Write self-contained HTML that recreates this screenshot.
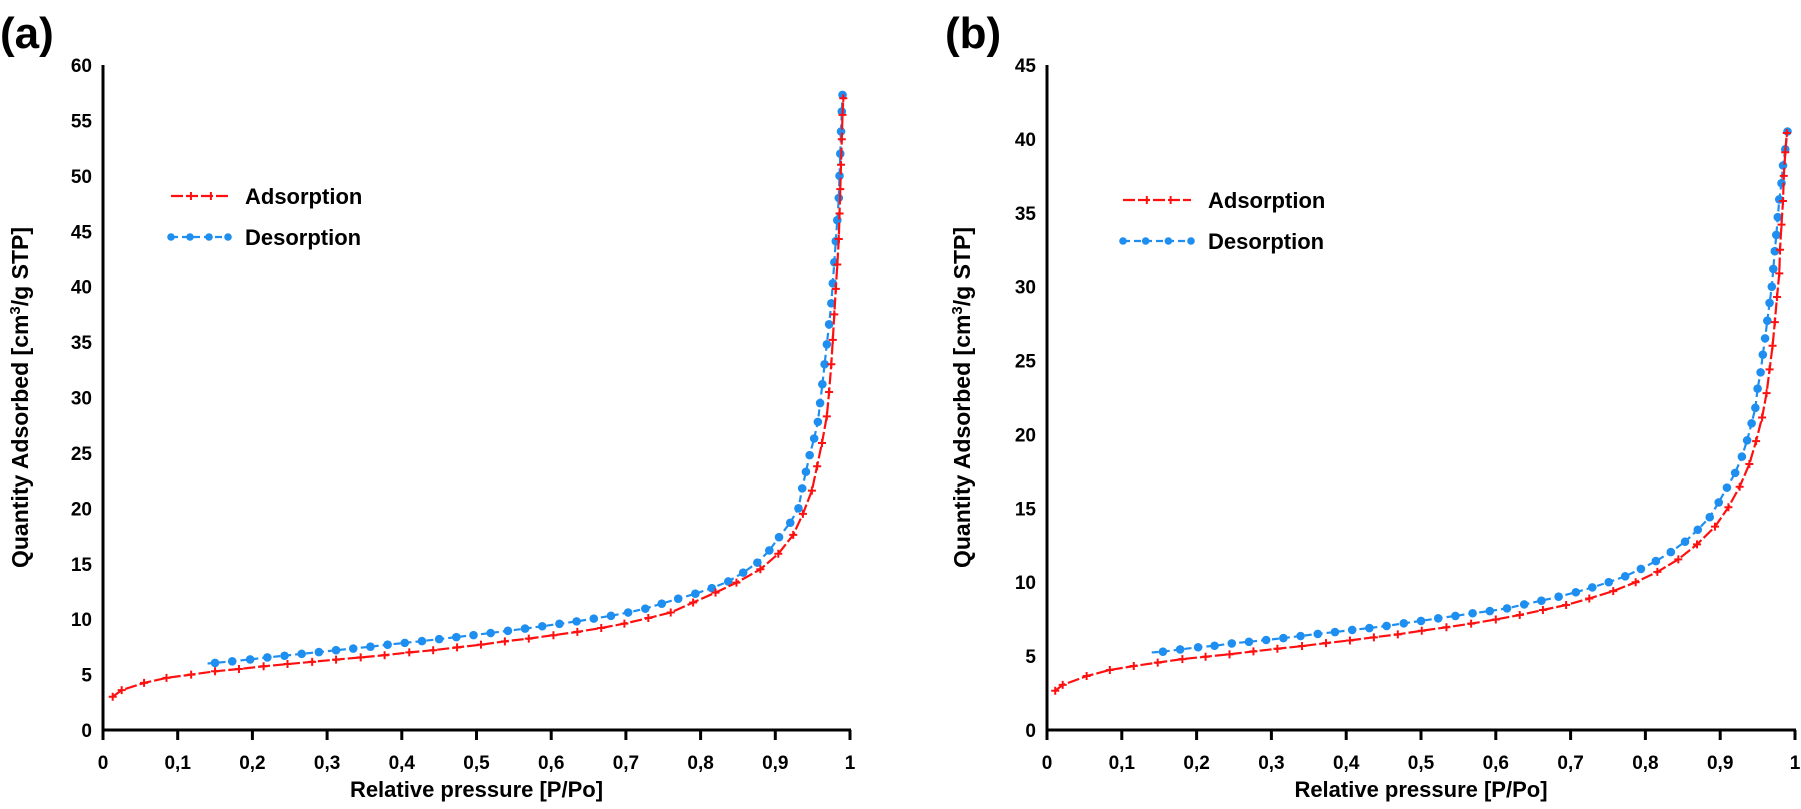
<!DOCTYPE html>
<html><head><meta charset="utf-8"><style>
html,body{margin:0;padding:0;background:#fff;}
svg{display:block;font-family:"Liberation Sans",sans-serif;}
</style></head><body>
<svg id="c" width="1801" height="809" viewBox="0 0 1801 809"></svg>
<script>
const xTickLabels=["0","0,1","0,2","0,3","0,4","0,5","0,6","0,7","0,8","0,9","1"];
const xTickValues=[0,0.1,0.2,0.3,0.4,0.5,0.6,0.7,0.8,0.9,1];
const aYTicks=[0,5,10,15,20,25,30,35,40,45,50,55,60];
const bYTicks=[0,5,10,15,20,25,30,35,40,45];
const aAdsP=[0.013,0.025,0.055,0.085,0.118,0.15,0.182,0.215,0.247,0.28,0.312,0.345,0.377,0.41,0.442,0.474,0.506,0.538,0.57,0.603,0.635,0.667,0.698,0.73,0.76,0.79,0.82,0.848,0.88,0.904,0.924,0.937,0.949,0.956,0.9625,0.969,0.972,0.975,0.977,0.979,0.981,0.983,0.985,0.986,0.987,0.988,0.989,0.99,0.991];
const aAdsQ=[3.0,3.6,4.25,4.7,5.0,5.3,5.5,5.75,5.95,6.15,6.35,6.55,6.75,7.0,7.2,7.45,7.7,8.0,8.25,8.55,8.85,9.2,9.6,10.1,10.6,11.5,12.4,13.3,14.5,15.9,17.6,19.5,21.6,23.8,25.9,28.3,30.5,33,35.2,37.5,39.8,42,44.3,46.6,48.8,51,53.3,55.5,57];
const aDesP=[0.15,0.173,0.197,0.22,0.243,0.266,0.289,0.312,0.335,0.358,0.381,0.404,0.427,0.45,0.473,0.496,0.519,0.542,0.565,0.588,0.611,0.634,0.657,0.68,0.703,0.726,0.748,0.77,0.793,0.815,0.837,0.857,0.876,0.892,0.905,0.92,0.931,0.936,0.941,0.946,0.952,0.957,0.96,0.963,0.966,0.969,0.972,0.975,0.977,0.979,0.981,0.983,0.985,0.986,0.987,0.988,0.989,0.99];
const aDesQ=[6.05,6.2,6.37,6.55,6.7,6.87,7.03,7.2,7.35,7.52,7.7,7.86,8.02,8.2,8.38,8.56,8.75,8.95,9.15,9.36,9.58,9.8,10.05,10.3,10.6,10.95,11.4,11.85,12.3,12.8,13.4,14.2,15.1,16.2,17.4,18.7,20,21.8,23.3,24.8,26.3,27.8,29.5,31.2,33,34.8,36.6,38.5,40.3,42.2,44.1,46,48,50,52,54,55.8,57.3];
const bAdsP=[0.011,0.021,0.053,0.084,0.116,0.148,0.181,0.212,0.244,0.276,0.308,0.341,0.373,0.405,0.437,0.469,0.501,0.534,0.567,0.6,0.632,0.663,0.694,0.725,0.757,0.787,0.816,0.844,0.869,0.893,0.911,0.926,0.939,0.948,0.956,0.962,0.966,0.97,0.973,0.976,0.979,0.98,0.982,0.984,0.985,0.987,0.989];
const bAdsQ=[2.66,3.05,3.65,4.06,4.33,4.56,4.8,4.96,5.12,5.32,5.5,5.68,5.88,6.06,6.27,6.47,6.72,6.95,7.2,7.48,7.78,8.12,8.46,8.9,9.4,10.0,10.7,11.55,12.56,13.76,15.07,16.46,18.0,19.55,21.15,22.8,24.4,26.0,27.6,29.3,30.9,32.5,34.2,35.8,37.5,39.1,40.4];
const bDesP=[0.155,0.178,0.202,0.224,0.247,0.27,0.293,0.316,0.339,0.362,0.385,0.408,0.431,0.454,0.477,0.5,0.523,0.546,0.569,0.592,0.615,0.638,0.661,0.684,0.707,0.729,0.751,0.773,0.794,0.814,0.834,0.853,0.87,0.886,0.898,0.909,0.92,0.929,0.936,0.942,0.947,0.95,0.954,0.957,0.96,0.963,0.966,0.969,0.971,0.973,0.975,0.977,0.979,0.982,0.984,0.987,0.99];
const bDesQ=[5.3,5.45,5.6,5.7,5.86,5.97,6.09,6.22,6.36,6.5,6.63,6.77,6.9,7.04,7.22,7.38,7.56,7.72,7.9,8.05,8.23,8.5,8.75,9.02,9.32,9.65,10.0,10.4,10.9,11.43,12.04,12.74,13.55,14.4,15.4,16.4,17.4,18.5,19.6,20.75,21.8,23.1,24.2,25.4,26.5,27.7,28.9,30.0,31.2,32.4,33.5,34.7,35.9,37.0,38.2,39.3,40.5];

const NS="http://www.w3.org/2000/svg";
const svg=document.getElementById('c');
function mk(tag,attrs,parent,text){const e=document.createElementNS(NS,tag);for(const k in attrs)e.setAttribute(k,attrs[k]);if(text!==undefined)e.textContent=text;(parent||svg).appendChild(e);return e;}

function panel(o){
  const g=mk('g',{});
  
  
  const X=p=>o.x0+(o.x1-o.x0)*p;
  const Y=q=>o.y0-(o.y0-o.yTop)*q/o.yMax;
  const lbl=mk('text',{x:o.lx,y:48,'font-size':44,'font-weight':'bold',fill:'#000'},g,o.letter);
  
  
  const ax=mk('path',{d:`M${o.x0} ${o.yTop}V${o.y0}H${o.x1+1}`,stroke:'#000','stroke-width':3,fill:'none'},g);
  
  
  xTickValues.forEach((v,i)=>{
    mk('line',{x1:X(v),x2:X(v),y1:o.y0,y2:o.y0+10,stroke:'#000','stroke-width':3},g);
    const t=mk('text',{x:X(v),y:769,'font-size':19,'font-weight':'bold','text-anchor':'middle'},g,xTickLabels[i]);
    
    
  });
  o.yTicks.forEach(v=>{
    const t=mk('text',{x:o.x0-11,y:Y(v)+7,'font-size':19,'font-weight':'bold','text-anchor':'end'},g,String(v));
    
    
  });
  const xt=mk('text',{x:(o.x0+o.x1)/2,y:797,'font-size':22,'font-weight':'bold','text-anchor':'middle'},g,'Relative pressure [P/Po]');
  
  
  const yt=mk('text',{x:0,y:0,'font-size':23,'font-weight':'bold','text-anchor':'middle',transform:`translate(${o.ytx},${(o.yTop+o.y0)/2}) rotate(-90)`},g);
  
  
  yt.innerHTML='Quantity Adsorbed [cm<tspan font-size="15" dy="-8">3</tspan><tspan dy="8">/g STP]</tspan>';
  // desorption
  const dpts=o.dP.map((p,i)=>[X(p),Y(o.dQ[i])]);
  const dd='M'+X(0.14)+' '+Y(o.dQ[0]-0.05)+' '+dpts.map(p=>'L'+p[0].toFixed(1)+' '+p[1].toFixed(1)).join(' ');
  const dl=mk('path',{d:dd,stroke:'#1e8ff0','stroke-width':2.2,fill:'none','stroke-dasharray':'7 4'},g);
  
  
  dpts.forEach(p=>{const c=mk('circle',{cx:p[0],cy:p[1],r:4.3,fill:'#1e8ff0'},g);
    
    });
  // adsorption
  const apts=o.aP.map((p,i)=>[X(p),Y(o.aQ[i])]);
  const ad='M'+apts.map(p=>p[0].toFixed(1)+' '+p[1].toFixed(1)).join(' L');
  const al=mk('path',{d:ad,stroke:'#ff1010','stroke-width':2.2,fill:'none','stroke-dasharray':'12 3'},g);
  
  
  apts.forEach(p=>{const m=mk('path',{d:`M${p[0]-4} ${p[1]}h8M${p[0]} ${p[1]-4}v8`,stroke:'#ff1010','stroke-width':2},g);
    
    });
  // legend
  const lg=mk('g',{},g);
  
  
  const L=o.legX, W=o.legW;
  mk('line',{x1:L,x2:L+W,y1:o.legY,y2:o.legY,stroke:'#ff1010','stroke-width':2.2,'stroke-dasharray':'12 3'},lg);
  [L+W*0.35,L+W*0.7].forEach(x=>mk('path',{d:`M${x} ${o.legY-4}v8`,stroke:'#ff1010','stroke-width':2},lg));
  const t1=mk('text',{x:L+W+17,y:o.legY+8,'font-size':22,'font-weight':'bold'},lg,'Adsorption');
  
  
  const ly2=o.legY+41;
  mk('line',{x1:L,x2:L+W,y1:ly2,y2:ly2,stroke:'#1e8ff0','stroke-width':2.2,'stroke-dasharray':'7 4'},lg);
  [0,1/3,2/3,1].forEach(f=>mk('circle',{cx:L+W*f,cy:ly2,r:3.8,fill:'#1e8ff0'},lg));
  const t2=mk('text',{x:L+W+17,y:ly2+8,'font-size':22,'font-weight':'bold'},lg,'Desorption');
  
  
}
panel({name:'panel-a',letter:'(a)',lx:0,x0:103,x1:850,y0:730,yTop:65,yMax:60,yTicks:aYTicks,ytx:28,
  aP:aAdsP,aQ:aAdsQ,dP:aDesP,dQ:aDesQ,legX:171,legW:57,legY:196});
panel({name:'panel-b',letter:'(b)',lx:945,x0:1047,x1:1795,y0:730,yTop:65,yMax:45,yTicks:bYTicks,ytx:970,
  aP:bAdsP,aQ:bAdsQ,dP:bDesP,dQ:bDesQ,legX:1123,legW:68,legY:200});
</script>
</body></html>
